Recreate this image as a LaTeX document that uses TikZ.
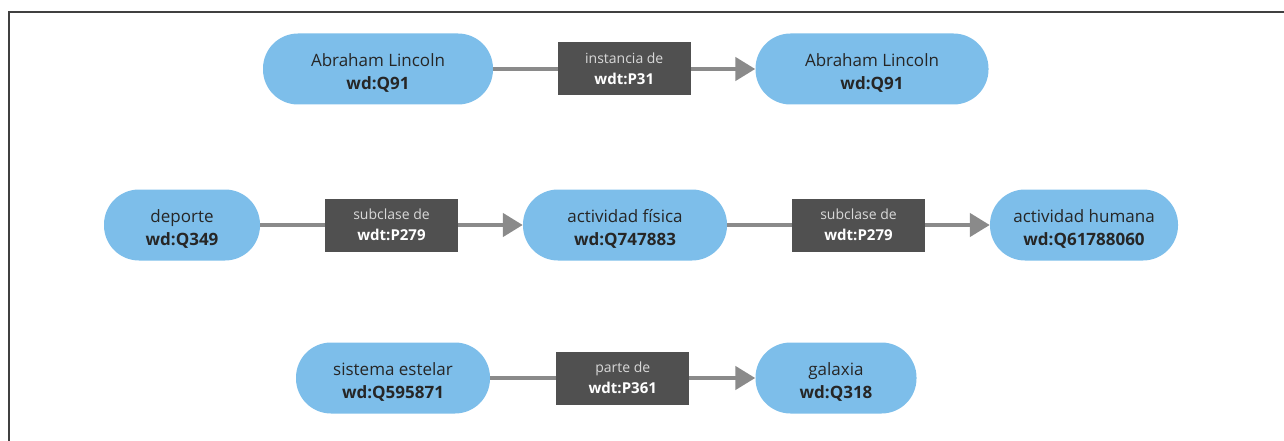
\documentclass[tikz,border=0pt]{standalone}
\usepackage{fontspec}
\setmainfont{Open Sans}
\usetikzlibrary{arrows.meta}
\definecolor{pillblue}{RGB}{125,190,234}
\definecolor{relgray}{RGB}{80,80,80}
\definecolor{linkgray}{RGB}{138,138,138}
\newcommand{\Item}[2]{\rule{0pt}{20pt}#1\\\textbf{#2}}
\newcommand{\Prop}[2]{{\color{black!15}#1}\\{\fontsize{15}{21}\selectfont\bfseries #2}}

\begin{document}
\begin{tikzpicture}[x=1pt,y=-1pt,
  item/.style={fill=pillblue, rounded corners=35pt, minimum height=71pt,
    inner sep=0pt, align=center, text=black!85, font=\fontsize{17}{23}\selectfont},
  prop/.style={fill=relgray, minimum width=133pt, minimum height=53pt,
    inner sep=0pt, align=center, text=white, font=\fontsize{14}{21}\selectfont},
  link/.style={-{Triangle[length=20pt,width=23pt,color=linkgray,fill=linkgray]},
    color=linkgray, line width=4.5pt},
  frame/.style={draw=black!75, line width=1.5pt}]
\useasboundingbox (0,0) rectangle (1284,441);
\draw[frame] (9,441) -- (9,12) -- (1284,12);

\node[item, minimum width=230pt] (lincoln) at (378,69) {\Item{Abraham Lincoln}{wd:Q91}};
\node[item, minimum width=233pt] (lincoln-2) at (872,69) {\Item{Abraham Lincoln}{wd:Q91}};
\node[item, minimum width=156pt] (deporte) at (182,225) {\Item{deporte}{wd:Q349}};
\node[item, minimum width=204pt] (actividad) at (625,225) {\Item{actividad física}{wd:Q747883}};
\node[item, minimum width=188pt] (humana) at (1084,225) {\Item{actividad humana}{wd:Q61788060}};
\node[item, minimum width=194pt] (estelar) at (393,378) {\Item{sistema estelar}{wd:Q595871}};
\node[item, minimum width=161pt] (galaxia) at (836,378) {\Item{galaxia}{wd:Q318}};

\path[link] (lincoln) edge node[prop]
     {\Prop{instancia de}{wdt:P31}} (lincoln-2);
\path[link] (deporte) edge node[prop]
     {\Prop{subclase de}{wdt:P279}} (actividad);
\path[link] (actividad) edge node[prop]
     {\Prop{subclase de}{wdt:P279}} (humana);
\path[link] (estelar) edge node[prop]
     {\Prop{parte de}{wdt:P361}} (galaxia);
\end{tikzpicture}
\end{document}
